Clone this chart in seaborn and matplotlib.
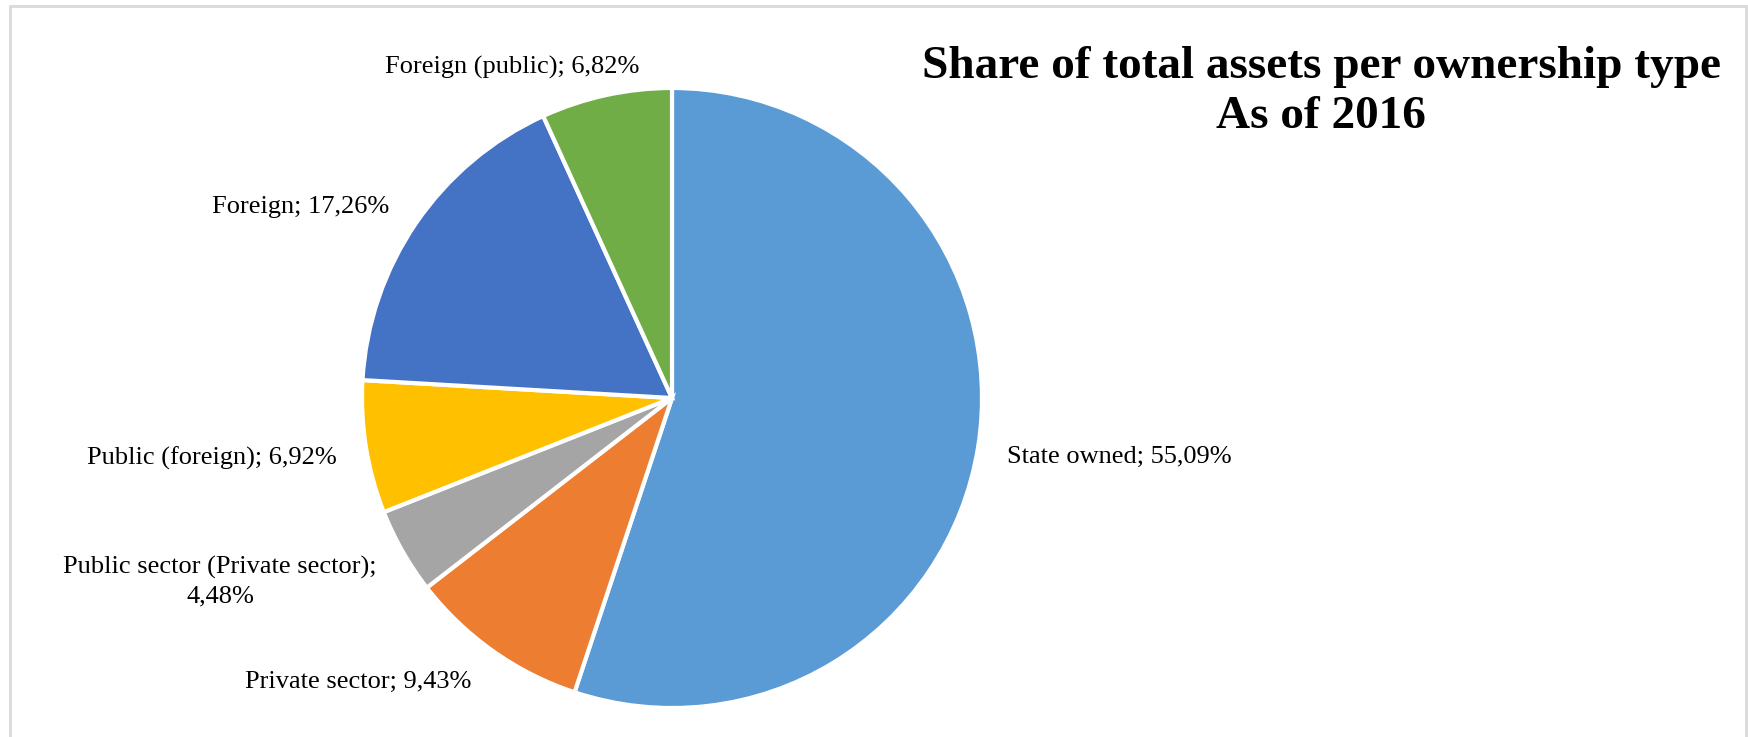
import matplotlib
matplotlib.use("Agg")
import matplotlib.pyplot as plt
from matplotlib.patches import Rectangle
import seaborn as sns

categories = ["State owned", "Private sector", "Public sector (Private sector)",
              "Public (foreign)", "Foreign", "Foreign (public)"]
shares = [55.09, 9.43, 4.48, 6.92, 17.26, 6.82]
label_texts = ["State owned; 55,09%", "Private sector; 9,43%",
               "Public sector (Private sector);\n4,48%", "Public (foreign); 6,92%",
               "Foreign; 17,26%", "Foreign (public); 6,82%"]
colors = ["#5B9BD5", "#ED7D31", "#A5A5A5", "#FFC000", "#4472C4", "#70AD47"]
title = "Share of total assets per ownership type\nAs of 2016"

sns.set_theme(style="white")
plt.rcParams["font.family"] = ["Liberation Serif", "DejaVu Serif"]

W, H = 1748, 737
fig = plt.figure(figsize=(W / 100, H / 100), dpi=100)
ax = fig.add_axes([0, 0, 1, 1])
cx, cy, R = 672, 398, 310

wedges, _ = ax.pie(shares, colors=colors, startangle=90, counterclock=False,
                   radius=1.0, center=(0, 0), frame=True,
                   wedgeprops=dict(edgecolor="white", linewidth=3))
ax.set_xlim(-cx / R, (W - cx) / R)
ax.set_ylim((cy - H) / R, cy / R)
ax.set_aspect("auto")
ax.set_axis_off()

# label placement (pixel positions of label anchors, converted to data units)
label_px = [(1007, 457, "left"), (358, 682, "center"), (220, 582, "center"),
            (212, 458, "center"), (301, 207, "center"), (512, 67, "center")]
for txt, (px, py, ha) in zip(label_texts, label_px):
    ax.text((px - cx) / R, (cy - py) / R, txt, ha=ha, va="center",
            fontsize=19, color="#000000", multialignment="center", linespacing=1.4)

fig.text(1321 / W, 1 - 92 / H, title, ha="center", va="center",
         fontsize=34, fontweight="bold", color="#000000", linespacing=1.25)

fig.patches.append(Rectangle((10 / W, -0.05), (1746 - 10) / W, 1 - 6 / H + 0.05,
                             transform=fig.transFigure, fill=False,
                             edgecolor="#D9D9D9", linewidth=2))

fig.savefig("out.png", dpi=100, facecolor="white")
